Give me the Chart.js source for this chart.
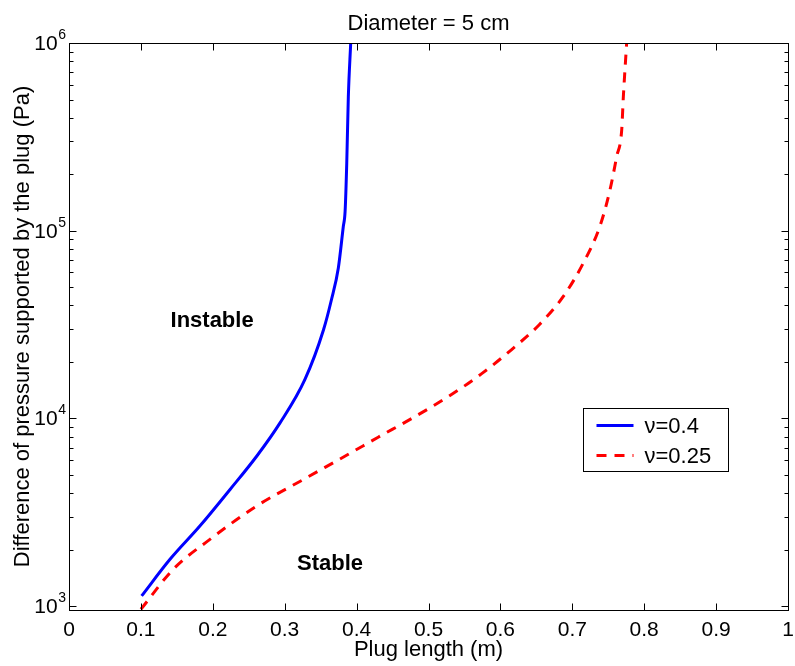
<!DOCTYPE html>
<html>
<head>
<meta charset="utf-8">
<script src="https://cdn.jsdelivr.net/npm/chart.js@4/dist/chart.umd.min.js"></script>
<style>
  body { margin: 0; background: #fff; }
  #wrap { width: 795px; height: 666px; }
</style>
</head>
<body>
<div id="wrap"><canvas id="grafico" width="795" height="666"></canvas></div>
<script>
// valores (longitud en m, presión en Pa)
const blueX = [0.101, 0.1405, 0.182, 0.224, 0.261, 0.2935, 0.328, 0.354, 0.365, 0.3746, 0.3815, 0.384, 0.3863, 0.3885, 0.3918];
const blueY = [1135, 1778, 2673, 4188, 6295, 9480, 16100, 29700, 42900, 63400, 105400, 126700, 229000, 517000, 1000000];

const redX = [0.1, 0.145, 0.196, 0.261, 0.3306, 0.391, 0.43, 0.4766, 0.5285, 0.574, 0.6157, 0.6537, 0.6875, 0.7153, 0.7385, 0.7524, 0.7617, 0.7687, 0.771, 0.7756];
const redY = [964, 1574, 2270, 3420, 4840, 6530, 7950, 10000, 13150, 17330, 23300, 31500, 44700, 67300, 106000, 165000, 248000, 344000, 517000, 1000000];

const seriesLabels = ['\u03bd=0.4', '\u03bd=0.25'];
const xTickValues = [0, 0.1, 0.2, 0.3, 0.4, 0.5, 0.6, 0.7, 0.8, 0.9, 1];
const yTickExponents = [3, 4, 5, 6];

// textos dentro del gráfico: [texto, x, y]
const regionLabels = [['Instable', 0.199, 33000], ['Stable', 0.363, 1672]];

const FONT = '"Liberation Sans", Arial, Helvetica, sans-serif';

function toPoints(xs, ys) {
    return xs.map((v, i) => ({ x: v, y: ys[i] }));
}

// Ejes al estilo MATLAB: caja, marcas hacia dentro, etiquetas 10^n, leyenda
const ejesPlugin = {
    id: 'ejesMatlab',
    afterDraw(chart) {
        const { ctx, chartArea: a, scales: { x, y } } = chart;
        const L = Math.round(a.left) + 0.5, R = Math.round(a.right) + 0.5;
        const T = Math.round(a.top) + 0.5, B = Math.round(a.bottom) + 0.5;
        ctx.save();
        ctx.strokeStyle = '#000';
        ctx.lineWidth = 1;
        ctx.strokeRect(L, T, R - L, B - T);

        ctx.beginPath();
        xTickValues.forEach(v => {
            const px = Math.round(x.getPixelForValue(v)) + 0.5;
            ctx.moveTo(px, B); ctx.lineTo(px, B - 7);
            ctx.moveTo(px, T); ctx.lineTo(px, T + 7);
        });
        yTickExponents.forEach(e => {
            const py = Math.round(y.getPixelForValue(Math.pow(10, e))) + 0.5;
            ctx.moveTo(L, py); ctx.lineTo(L + 7, py);
            ctx.moveTo(R, py); ctx.lineTo(R - 7, py);
            if (e < 6) {
                for (let m = 2; m <= 9; m++) {
                    const pm = Math.round(y.getPixelForValue(m * Math.pow(10, e))) + 0.5;
                    ctx.moveTo(L, pm); ctx.lineTo(L + 4, pm);
                    ctx.moveTo(R, pm); ctx.lineTo(R - 4, pm);
                }
            }
        });
        ctx.stroke();

        // etiquetas del eje y
        ctx.fillStyle = '#000';
        ctx.textBaseline = 'middle';
        yTickExponents.forEach(e => {
            const py = y.getPixelForValue(Math.pow(10, e));
            ctx.font = '14px ' + FONT;
            ctx.textAlign = 'right';
            const expW = ctx.measureText(String(e)).width;
            ctx.fillText(String(e), 66, py - 8);
            ctx.font = '21px ' + FONT;
            ctx.fillText('10', 66 - expW - 0.5, py + 1);
        });

        // Instable / Stable
        ctx.font = 'bold 22px ' + FONT;
        ctx.textAlign = 'center';
        regionLabels.forEach(([txt, vx, vy]) => {
            ctx.fillText(txt, x.getPixelForValue(vx), y.getPixelForValue(vy));
        });

        // leyenda
        const lx = 583.5, ly = 408.5, lw = 145, lh = 63;
        ctx.fillStyle = '#fff';
        ctx.fillRect(lx, ly, lw, lh);
        ctx.strokeStyle = '#000';
        ctx.lineWidth = 1;
        ctx.strokeRect(lx, ly, lw, lh);
        chart.data.datasets.forEach((ds, i) => {
            const yy = ly + 17 + i * 30;
            ctx.beginPath();
            ctx.strokeStyle = ds.borderColor;
            ctx.lineWidth = ds.borderWidth;
            ctx.setLineDash(ds.borderDash || []);
            ctx.moveTo(lx + 13, yy);
            ctx.lineTo(lx + 50, yy);
            ctx.stroke();
            ctx.setLineDash([]);
            ctx.fillStyle = '#000';
            ctx.font = '22px ' + FONT;
            ctx.textAlign = 'left';
            ctx.fillText(ds.label, lx + 61, yy + 1);
        });
        ctx.restore();
    }
};

const ctx = document.getElementById('grafico').getContext('2d');
new Chart(ctx, {
    type: 'line',
    data: {
        datasets: [{
            label: seriesLabels[0],
            data: toPoints(blueX, blueY),
            borderColor: '#0000ff',
            borderWidth: 3,
            pointRadius: 0,
            fill: false,
            cubicInterpolationMode: 'monotone'
        }, {
            label: seriesLabels[1],
            data: toPoints(redX, redY),
            borderColor: '#ff0000',
            borderWidth: 3,
            borderDash: [10, 8],
            pointRadius: 0,
            fill: false,
            cubicInterpolationMode: 'monotone'
        }]
    },
    options: {
        responsive: false,
        animation: false,
        events: [],
        layout: { padding: { left: 0, right: 7, top: 0, bottom: 0 } },
        plugins: {
            legend: { display: false },
            tooltip: { enabled: false },
            title: {
                display: true,
                fullSize: false,
                text: 'Diameter = 5 cm',
                color: '#000',
                font: { family: FONT, size: 22, weight: 'normal' },
                padding: { top: 10.5, bottom: 6.1 }
            }
        },
        scales: {
            x: {
                type: 'linear',
                min: 0,
                max: 1,
                afterFit: s => {
                    s.height = 56;
                    s.paddingLeft = 0;
                    s.paddingRight = 0;
                },
                afterBuildTicks: s => { s.ticks = xTickValues.map(v => ({ value: v })); },
                grid: { display: false, drawTicks: false },
                border: { display: false },
                ticks: {
                    padding: 8,
                    color: '#000',
                    font: { family: FONT, size: 21 },
                    maxRotation: 0,
                    callback: v => (v === 0 || v === 1) ? String(v) : v.toFixed(1)
                },
                title: {
                    display: true,
                    text: 'Plug length (m)',
                    color: '#000',
                    font: { family: FONT, size: 22 },
                    padding: { top: 0, bottom: 3 }
                }
            },
            y: {
                type: 'logarithmic',
                min: 955,
                max: 1000000,
                afterFit: s => { s.width = 69; },
                grid: { display: false, drawTicks: false },
                border: { display: false },
                ticks: { display: false },
                title: {
                    display: true,
                    text: 'Difference of pressure supported by the plug (Pa)',
                    color: '#000',
                    font: { family: FONT, size: 22 },
                    padding: { top: 10, bottom: 0 }
                }
            }
        }
    },
    plugins: [ejesPlugin]
});
</script>
</body>
</html>
